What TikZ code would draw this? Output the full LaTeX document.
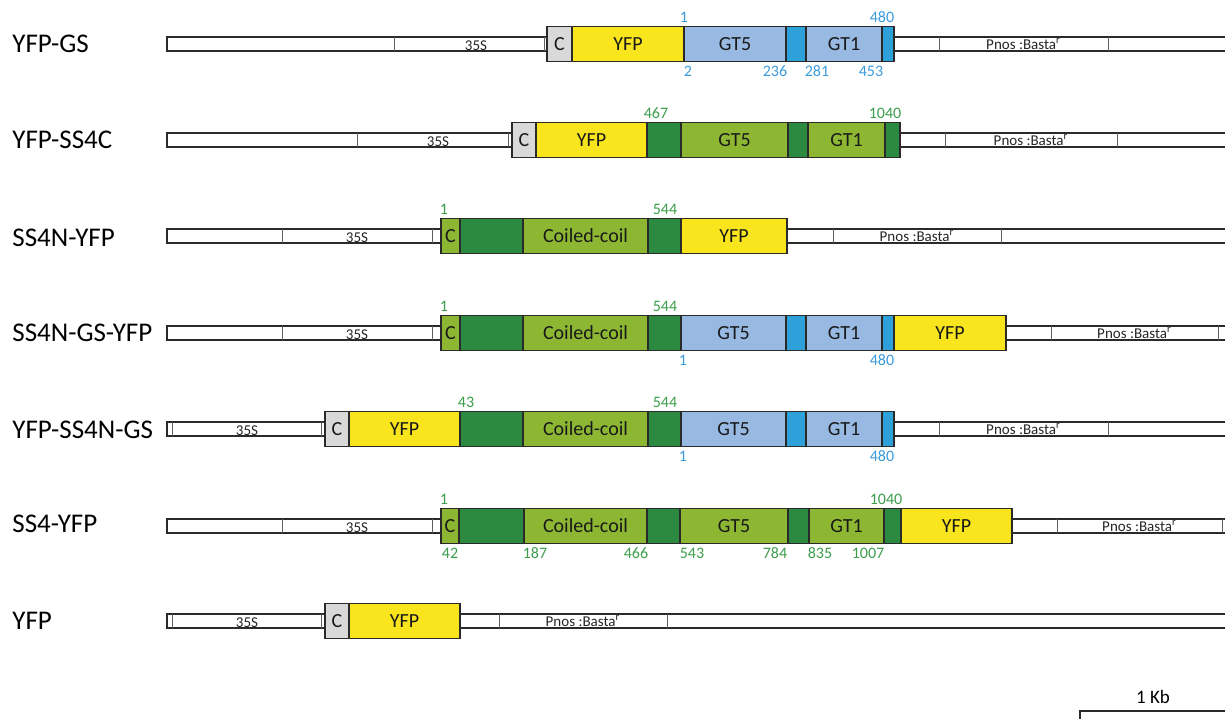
\documentclass[tikz,border=0pt]{standalone}
\usepackage{fontspec}
\setmainfont{Carlito}
\usepackage{xcolor}
\definecolor{yfpc}{HTML}{F8E51E}
\definecolor{gtc}{HTML}{97B9E2}
\definecolor{gtdc}{HTML}{2EA1DB}
\definecolor{ssc}{HTML}{8DB733}
\definecolor{ssdc}{HTML}{2B8A3F}
\definecolor{cboxc}{HTML}{D9D9D9}
\definecolor{bluet}{HTML}{3A9BDC}
\definecolor{greent}{HTML}{3C9E4C}
\definecolor{linec}{HTML}{2A2A2A}

\begin{document}
\begin{tikzpicture}[x=0.5pt,y=-0.5pt,
  bb/.style={draw=linec,line width=0.9pt,fill=white},
  bbdiv/.style={draw=linec!75,line width=0.5pt},
  seg/.style={draw=linec,line width=0.9pt},
  segtxt/.style={font=\fontsize{10}{11}\selectfont,text=black!90,inner sep=0pt},
  rowlab/.style={font=\fontsize{13.5}{14}\selectfont,anchor=west,inner sep=0pt},
  bluen/.style={font=\fontsize{8}{9}\selectfont,text=bluet,inner sep=0pt},
  greenn/.style={font=\fontsize{8}{9}\selectfont,text=greent,inner sep=0pt},
  promt/.style={font=\fontsize{7.5}{8}\selectfont,text=black!85,inner sep=0pt}]
  \useasboundingbox (0,0) rectangle (1225,719);
  \fill[white] (0,0) rectangle (1225,719);

  % ============================================================
  %                       PARAMETERS
  % ============================================================
  \def\bbH{7}       % half height of the vector line
  \def\segH{17.5}   % half height of the fusion boxes
  \def\numOff{27}   % offset of the residue numbers

  % ============================================================
  %                       ROW LABELS
  % ============================================================
  \foreach \r/\ry/\txt in {1/44/YFP-GS, 2/140/YFP-SS4C, 3/238/SS4N-YFP,
      4/333/SS4N-GS-YFP, 5/430/YFP-SS4N-GS, 6/524/SS4-YFP, 7/621/YFP} {
    \node[rowlab] (lab\r) at (12,\ry) {\txt};
  }

  % ============================================================
  %                       VECTOR BACKBONE (35S ... Pnos)
  % ============================================================
  % row / y / box start / 35S divider / 35S x / end tick / box end / divider / divider
  \foreach \r/\ry/\bs/\dv/\px/\dk/\be/\da/\db in {
      1/44/547/394/476/544/894/939/1108,
      2/140/512/357/438/508/900/945/1117,
      3/236/441/282/357/432/787/833/1001,
      4/333/441/282/357/432/1006/1051/1218,
      5/429/325/172/247/321/894/939/1108,
      6/526/441/282/357/432/1012/1057/1222,
      7/621/325/172/247/321/460/499/667} {
    % left arm
    \draw[bb] (167,\ry-\bbH) rectangle (\bs,\ry+\bbH);
    \draw[bbdiv] (\dv,\ry-\bbH) -- (\dv,\ry+\bbH);
    \draw[bbdiv] (\dk,\ry-\bbH) -- (\dk,\ry+\bbH);
    \node[promt] (p35s\r) at (\px,\ry+1.5) {35S};
    % right arm, runs off the page
    \draw[bb] (1225,\ry-\bbH) -- (\be,\ry-\bbH) -- (\be,\ry+\bbH) -- (1225,\ry+\bbH);
    \draw[bbdiv] (\da,\ry-\bbH) -- (\da,\ry+\bbH);
    \draw[bbdiv] (\db,\ry-\bbH) -- (\db,\ry+\bbH);
    \node[promt] (pnos\r) at ({(\da+\db)/2},\ry) {Pnos :Basta\textsuperscript{r}};
  }

  % ============================================================
  %                       ROW 1 : YFP-GS
  % ============================================================
  \foreach \xa/\xb/\col/\txt in {547/572/cboxc/C, 572/684/yfpc/YFP,
      684/786/gtc/GT5, 786/806/gtdc/, 806/882/gtc/GT1, 882/894/gtdc/} {
    \draw[seg,fill=\col] (\xa,44-\segH) rectangle (\xb,44+\segH);
    \node[segtxt] (s1-\xa) at ({(\xa+\xb)/2},44) {\txt};
  }
  \foreach \xx/\t in {684/1, 882/480}
    \node[bluen] (n1a-\t) at (\xx,44-\numOff) {\t};
  \foreach \xx/\t in {688/2, 775/236, 817/281, 871/453}
    \node[bluen] (n1b-\t) at (\xx,44+\numOff) {\t};

  % ============================================================
  %                       ROW 2 : YFP-SS4C
  % ============================================================
  \foreach \xa/\xb/\col/\txt in {512/536/cboxc/C, 536/647/yfpc/YFP,
      647/681/ssdc/, 681/788/ssc/GT5, 788/808/ssdc/, 808/885/ssc/GT1,
      885/900/ssdc/} {
    \draw[seg,fill=\col] (\xa,140-\segH) rectangle (\xb,140+\segH);
    \node[segtxt] (s2-\xa) at ({(\xa+\xb)/2},140) {\txt};
  }
  \foreach \xx/\t in {656/467, 885/1040}
    \node[greenn] (n2a-\t) at (\xx,140-\numOff) {\t};

  % ============================================================
  %                       ROW 3 : SS4N-YFP
  % ============================================================
  \foreach \xa/\xb/\col/\txt in {441/460/ssc/C, 460/523/ssdc/,
      523/648/ssc/Coiled-coil, 648/681/ssdc/, 681/787/yfpc/YFP} {
    \draw[seg,fill=\col] (\xa,236-\segH) rectangle (\xb,236+\segH);
    \node[segtxt] (s3-\xa) at ({(\xa+\xb)/2},236) {\txt};
  }
  \foreach \xx/\t in {444/1, 665/544}
    \node[greenn] (n3a-\t) at (\xx,236-\numOff) {\t};

  % ============================================================
  %                       ROW 4 : SS4N-GS-YFP
  % ============================================================
  \foreach \xa/\xb/\col/\txt in {441/460/ssc/C, 460/523/ssdc/,
      523/648/ssc/Coiled-coil, 648/681/ssdc/, 681/786/gtc/GT5,
      786/806/gtdc/, 806/882/gtc/GT1, 882/894/gtdc/, 894/1006/yfpc/YFP} {
    \draw[seg,fill=\col] (\xa,333-\segH) rectangle (\xb,333+\segH);
    \node[segtxt] (s4-\xa) at ({(\xa+\xb)/2},333) {\txt};
  }
  \foreach \xx/\t in {444/1, 665/544}
    \node[greenn] (n4a-\t) at (\xx,333-\numOff) {\t};
  \foreach \xx/\t in {683/1, 882/480}
    \node[bluen] (n4b-\t) at (\xx,333+\numOff) {\t};

  % ============================================================
  %                       ROW 5 : YFP-SS4N-GS
  % ============================================================
  \foreach \xa/\xb/\col/\txt in {325/349/cboxc/C, 349/460/yfpc/YFP,
      460/523/ssdc/, 523/648/ssc/Coiled-coil, 648/681/ssdc/,
      681/786/gtc/GT5, 786/806/gtdc/, 806/882/gtc/GT1, 882/894/gtdc/} {
    \draw[seg,fill=\col] (\xa,429-\segH) rectangle (\xb,429+\segH);
    \node[segtxt] (s5-\xa) at ({(\xa+\xb)/2},429) {\txt};
  }
  \foreach \xx/\t in {466/43, 665/544}
    \node[greenn] (n5a-\t) at (\xx,429-\numOff) {\t};
  \foreach \xx/\t in {683/1, 882/480}
    \node[bluen] (n5b-\t) at (\xx,429+\numOff) {\t};

  % ============================================================
  %                       ROW 6 : SS4-YFP
  % ============================================================
  \foreach \xa/\xb/\col/\txt in {441/459/ssc/C, 459/524/ssdc/,
      524/647/ssc/Coiled-coil, 647/680/ssdc/, 680/788/ssc/GT5,
      788/809/ssdc/, 809/884/ssc/GT1, 884/901/ssdc/, 901/1012/yfpc/YFP} {
    \draw[seg,fill=\col] (\xa,526-\segH) rectangle (\xb,526+\segH);
    \node[segtxt] (s6-\xa) at ({(\xa+\xb)/2},526) {\txt};
  }
  \foreach \xx/\t in {444/1, 886/1040}
    \node[greenn] (n6a-\t) at (\xx,526-\numOff) {\t};
  \foreach \xx/\t in {450/42, 535/187, 636/466, 692/543, 775/784,
      820/835, 868/1007}
    \node[greenn] (n6b-\t) at (\xx,526+\numOff) {\t};

  % ============================================================
  %                       ROW 7 : YFP
  % ============================================================
  \foreach \xa/\xb/\col/\txt in {325/349/cboxc/C, 349/460/yfpc/YFP} {
    \draw[seg,fill=\col] (\xa,621-\segH) rectangle (\xb,621+\segH);
    \node[segtxt] (s7-\xa) at ({(\xa+\xb)/2},621) {\txt};
  }

  % ============================================================
  %                       SCALE BAR
  % ============================================================
  \node[font=\fontsize{9.5}{10}\selectfont,inner sep=0pt] (kb) at (1153,697) {1 Kb};
  \coordinate (sbl) at (1080,719);
  \coordinate (sbc) at (1080,711);
  \coordinate (sbr) at (1225,711);
  \draw[linec,line width=0.8pt] (sbl) -- (sbc) -- (sbr);

\end{tikzpicture}
\end{document}
